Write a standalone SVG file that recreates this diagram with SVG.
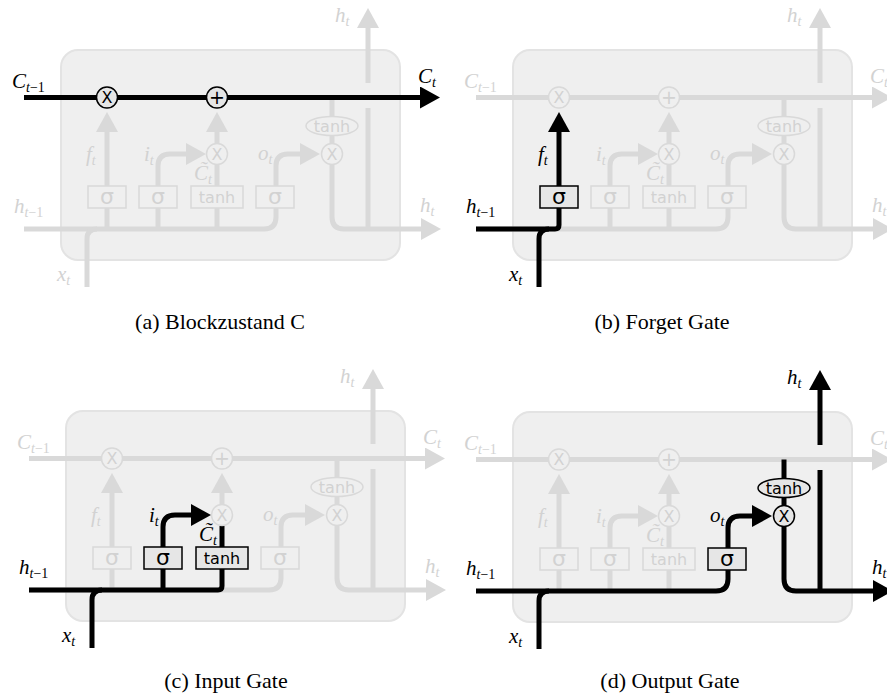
<svg xmlns="http://www.w3.org/2000/svg" width="887" height="693" viewBox="0 0 887 693">
<style>
.cell{fill:#efefef;stroke:#e3e3e3;stroke-width:2}
.g{fill:none;stroke:#d9d9d9;stroke-width:5}
.k{fill:none;stroke:#000;stroke-width:5}
.ng{fill:#efefef;stroke:#d9d9d9;stroke-width:1.5}
.nk{fill:#e6e6e6;stroke:#000;stroke-width:1.5}
.tg{fill:#d2d2d2}
.tk{fill:#000}
.m{font-family:"Liberation Serif",serif;font-style:italic;font-size:21px}
.s{font-size:14px}
.n{font-style:normal}
.sy{font-family:"DejaVu Sans",sans-serif;text-anchor:middle}
.cap{font-family:"Liberation Serif",serif;font-size:22px;fill:#000;text-anchor:middle}
</style>
<defs>
<marker id="ag" markerUnits="userSpaceOnUse" markerWidth="20" markerHeight="22" viewBox="0 0 20 22" refX="1" refY="11" orient="auto"><path d="M0,0L20,11L0,22z" fill="#d9d9d9"/></marker>
<marker id="ak" markerUnits="userSpaceOnUse" markerWidth="20" markerHeight="22" viewBox="0 0 20 22" refX="1" refY="11" orient="auto"><path d="M0,0L20,11L0,22z" fill="#000"/></marker>
</defs>
<rect width="887" height="693" fill="#fff"/>

<!-- Panel (a) -->
<g id="panel-a" transform="translate(0,0)">
<rect class="cell" x="61" y="50" width="339" height="210" rx="17"/>
<g id="a-connectors">
<path class="g" d="M368,83V27" marker-end="url(#ag)"/>
<path class="g" d="M368,108V229"/>
<path class="g" d="M332,97.5V143.5"/>
<path class="g" d="M332,164.5V217Q332,229 344,229H422" marker-end="url(#ag)"/>
<path class="g" d="M24,229H264Q276,229 276,217V166Q276,154 288,154H301" marker-end="url(#ag)"/>
<path class="g" d="M87,287V239Q87,229 97,229"/>
<path class="g" d="M107,229V131" marker-end="url(#ag)"/>
<path class="g" d="M158,229V166Q158,154 170,154H187" marker-end="url(#ag)"/>
<path class="g" d="M217,229V164.5"/>
<path class="g" d="M217,143.5V131" marker-end="url(#ag)"/>
<path class="k" d="M24,97.5H421" marker-end="url(#ak)"/>
</g>
<g id="a-forget-mul"><circle class="nk" cx="107" cy="97.5" r="10.5"/><text class="sy tk" x="107" y="103.3" font-size="16">X</text></g>
<g id="a-add"><circle class="nk" cx="217" cy="97.5" r="10.5"/><text class="sy tk" x="217" y="104.3" font-size="19">+</text></g>
<g id="a-input-mul"><circle class="ng" cx="217" cy="154" r="10.5"/><text class="sy tg" x="217" y="159.8" font-size="16">X</text></g>
<g id="a-output-mul"><circle class="ng" cx="332" cy="154" r="10.5"/><text class="sy tg" x="332" y="159.8" font-size="16">X</text></g>
<g id="a-tanh-out"><ellipse class="ng" cx="332" cy="126" rx="26" ry="9.5"/><text class="sy tg" x="332" y="131.8" font-size="16">tanh</text></g>
<g id="a-sigma-f"><rect class="ng" x="88" y="186" width="38" height="22"/><text class="sy tg" x="107" y="203.5" font-size="22">σ</text></g>
<g id="a-sigma-i"><rect class="ng" x="139" y="186" width="38" height="22"/><text class="sy tg" x="158" y="203.5" font-size="22">σ</text></g>
<g id="a-tanh-c"><rect class="ng" x="191" y="186" width="52" height="22"/><text class="sy tg" x="217" y="202.8" font-size="16">tanh</text></g>
<g id="a-sigma-o"><rect class="ng" x="256" y="186" width="38" height="22"/><text class="sy tg" x="275" y="203.5" font-size="22">σ</text></g>
<g id="a-labels" class="m">
<text class="tk" x="12" y="88">C<tspan class="s" dy="4">t</tspan><tspan class="s n">−1</tspan></text>
<text class="tk" x="418" y="83">C<tspan class="s" dy="4">t</tspan></text>
<text class="tg" x="335" y="22">h<tspan class="s" dy="4">t</tspan></text>
<text class="tg" x="420" y="212">h<tspan class="s" dy="4">t</tspan></text>
<text class="tg" x="14" y="213">h<tspan class="s" dy="4">t</tspan><tspan class="s n">−1</tspan></text>
<text class="tg" x="57" y="281">x<tspan class="s" dy="4">t</tspan></text>
<text class="tg" x="86" y="161">f<tspan class="s" dy="4">t</tspan></text>
<text class="tg" x="144" y="161">i<tspan class="s" dy="4">t</tspan></text>
<text class="tg" x="194" y="180">C̃<tspan class="s" dy="4">t</tspan></text>
<text class="tg" x="258" y="160">o<tspan class="s" dy="4">t</tspan></text>
</g>
</g>

<!-- Panel (b) -->
<g id="panel-b" transform="translate(452,0)">
<rect class="cell" x="61" y="50" width="339" height="210" rx="17"/>
<g id="b-connectors">
<path class="g" d="M24,97.5H421" marker-end="url(#ag)"/>
<path class="g" d="M368,83V27" marker-end="url(#ag)"/>
<path class="g" d="M368,108V229"/>
<path class="g" d="M332,97.5V143.5"/>
<path class="g" d="M332,164.5V217Q332,229 344,229H422" marker-end="url(#ag)"/>
<path class="g" d="M24,229H264Q276,229 276,217V166Q276,154 288,154H301" marker-end="url(#ag)"/>
<path class="g" d="M158,229V166Q158,154 170,154H187" marker-end="url(#ag)"/>
<path class="g" d="M217,229V164.5"/>
<path class="g" d="M217,143.5V131" marker-end="url(#ag)"/>
<path class="k" d="M24,229H103Q107,229 107,225V131" marker-end="url(#ak)"/>
<path class="k" d="M87,287V239Q87,229 97,229"/>
</g>
<g id="b-forget-mul"><circle class="ng" cx="107" cy="97.5" r="10.5"/><text class="sy tg" x="107" y="103.3" font-size="16">X</text></g>
<g id="b-add"><circle class="ng" cx="217" cy="97.5" r="10.5"/><text class="sy tg" x="217" y="104.3" font-size="19">+</text></g>
<g id="b-input-mul"><circle class="ng" cx="217" cy="154" r="10.5"/><text class="sy tg" x="217" y="159.8" font-size="16">X</text></g>
<g id="b-output-mul"><circle class="ng" cx="332" cy="154" r="10.5"/><text class="sy tg" x="332" y="159.8" font-size="16">X</text></g>
<g id="b-tanh-out"><ellipse class="ng" cx="332" cy="126" rx="26" ry="9.5"/><text class="sy tg" x="332" y="131.8" font-size="16">tanh</text></g>
<g id="b-sigma-f"><rect class="nk" x="88" y="186" width="38" height="22"/><text class="sy tk" x="107" y="203.5" font-size="22">σ</text></g>
<g id="b-sigma-i"><rect class="ng" x="139" y="186" width="38" height="22"/><text class="sy tg" x="158" y="203.5" font-size="22">σ</text></g>
<g id="b-tanh-c"><rect class="ng" x="191" y="186" width="52" height="22"/><text class="sy tg" x="217" y="202.8" font-size="16">tanh</text></g>
<g id="b-sigma-o"><rect class="ng" x="256" y="186" width="38" height="22"/><text class="sy tg" x="275" y="203.5" font-size="22">σ</text></g>
<g id="b-labels" class="m">
<text class="tg" x="12" y="88">C<tspan class="s" dy="4">t</tspan><tspan class="s n">−1</tspan></text>
<text class="tg" x="418" y="83">C<tspan class="s" dy="4">t</tspan></text>
<text class="tg" x="335" y="22">h<tspan class="s" dy="4">t</tspan></text>
<text class="tg" x="420" y="212">h<tspan class="s" dy="4">t</tspan></text>
<text class="tk" x="14" y="213">h<tspan class="s" dy="4">t</tspan><tspan class="s n">−1</tspan></text>
<text class="tk" x="57" y="281">x<tspan class="s" dy="4">t</tspan></text>
<text class="tk" x="86" y="161">f<tspan class="s" dy="4">t</tspan></text>
<text class="tg" x="144" y="161">i<tspan class="s" dy="4">t</tspan></text>
<text class="tg" x="194" y="180">C̃<tspan class="s" dy="4">t</tspan></text>
<text class="tg" x="258" y="160">o<tspan class="s" dy="4">t</tspan></text>
</g>
</g>

<!-- Panel (c) -->
<g id="panel-c" transform="translate(5,361)">
<rect class="cell" x="61" y="50" width="339" height="210" rx="17"/>
<g id="c-connectors">
<path class="g" d="M24,97.5H421" marker-end="url(#ag)"/>
<path class="g" d="M368,83V27" marker-end="url(#ag)"/>
<path class="g" d="M368,108V229"/>
<path class="g" d="M332,97.5V143.5"/>
<path class="g" d="M332,164.5V217Q332,229 344,229H422" marker-end="url(#ag)"/>
<path class="g" d="M24,229H264Q276,229 276,217V166Q276,154 288,154H301" marker-end="url(#ag)"/>
<path class="g" d="M107,229V131" marker-end="url(#ag)"/>
<path class="g" d="M217,143.5V131" marker-end="url(#ag)"/>
<path class="k" d="M24,229H213Q217,229 217,225V164.5"/>
<path class="k" d="M158,229V166Q158,154 170,154H187" marker-end="url(#ak)"/>
<path class="k" d="M87,287V239Q87,229 97,229"/>
</g>
<g id="c-forget-mul"><circle class="ng" cx="107" cy="97.5" r="10.5"/><text class="sy tg" x="107" y="103.3" font-size="16">X</text></g>
<g id="c-add"><circle class="ng" cx="217" cy="97.5" r="10.5"/><text class="sy tg" x="217" y="104.3" font-size="19">+</text></g>
<g id="c-input-mul"><circle class="ng" cx="217" cy="154" r="10.5"/><text class="sy tg" x="217" y="159.8" font-size="16">X</text></g>
<g id="c-output-mul"><circle class="ng" cx="332" cy="154" r="10.5"/><text class="sy tg" x="332" y="159.8" font-size="16">X</text></g>
<g id="c-tanh-out"><ellipse class="ng" cx="332" cy="126" rx="26" ry="9.5"/><text class="sy tg" x="332" y="131.8" font-size="16">tanh</text></g>
<g id="c-sigma-f"><rect class="ng" x="88" y="186" width="38" height="22"/><text class="sy tg" x="107" y="203.5" font-size="22">σ</text></g>
<g id="c-sigma-i"><rect class="nk" x="139" y="186" width="38" height="22"/><text class="sy tk" x="158" y="203.5" font-size="22">σ</text></g>
<g id="c-tanh-c"><rect class="nk" x="191" y="186" width="52" height="22"/><text class="sy tk" x="217" y="202.8" font-size="16">tanh</text></g>
<g id="c-sigma-o"><rect class="ng" x="256" y="186" width="38" height="22"/><text class="sy tg" x="275" y="203.5" font-size="22">σ</text></g>
<g id="c-labels" class="m">
<text class="tg" x="12" y="88">C<tspan class="s" dy="4">t</tspan><tspan class="s n">−1</tspan></text>
<text class="tg" x="418" y="83">C<tspan class="s" dy="4">t</tspan></text>
<text class="tg" x="335" y="22">h<tspan class="s" dy="4">t</tspan></text>
<text class="tg" x="420" y="212">h<tspan class="s" dy="4">t</tspan></text>
<text class="tk" x="14" y="213">h<tspan class="s" dy="4">t</tspan><tspan class="s n">−1</tspan></text>
<text class="tk" x="57" y="281">x<tspan class="s" dy="4">t</tspan></text>
<text class="tg" x="86" y="161">f<tspan class="s" dy="4">t</tspan></text>
<text class="tk" x="144" y="161">i<tspan class="s" dy="4">t</tspan></text>
<text class="tk" x="194" y="180">C̃<tspan class="s" dy="4">t</tspan></text>
<text class="tg" x="258" y="160">o<tspan class="s" dy="4">t</tspan></text>
</g>
</g>

<!-- Panel (d) -->
<g id="panel-d" transform="translate(452,362)">
<rect class="cell" x="61" y="50" width="339" height="210" rx="17"/>
<g id="d-connectors">
<path class="g" d="M24,97.5H421" marker-end="url(#ag)"/>
<path class="g" d="M107,229V131" marker-end="url(#ag)"/>
<path class="g" d="M158,229V166Q158,154 170,154H187" marker-end="url(#ag)"/>
<path class="g" d="M217,229V164.5"/>
<path class="g" d="M217,143.5V131" marker-end="url(#ag)"/>
<path class="k" d="M368,83V27" marker-end="url(#ak)"/>
<path class="k" d="M368,108V229"/>
<path class="k" d="M332,97.5V143.5"/>
<path class="k" d="M332,164.5V217Q332,229 344,229H422" marker-end="url(#ak)"/>
<path class="k" d="M24,229H264Q276,229 276,217V166Q276,154 288,154H301" marker-end="url(#ak)"/>
<path class="k" d="M87,287V239Q87,229 97,229"/>
</g>
<g id="d-forget-mul"><circle class="ng" cx="107" cy="97.5" r="10.5"/><text class="sy tg" x="107" y="103.3" font-size="16">X</text></g>
<g id="d-add"><circle class="ng" cx="217" cy="97.5" r="10.5"/><text class="sy tg" x="217" y="104.3" font-size="19">+</text></g>
<g id="d-input-mul"><circle class="ng" cx="217" cy="154" r="10.5"/><text class="sy tg" x="217" y="159.8" font-size="16">X</text></g>
<g id="d-output-mul"><circle class="nk" cx="332" cy="154" r="10.5"/><text class="sy tk" x="332" y="159.8" font-size="16">X</text></g>
<g id="d-tanh-out"><ellipse class="nk" cx="332" cy="126" rx="26" ry="9.5"/><text class="sy tk" x="332" y="131.8" font-size="16">tanh</text></g>
<g id="d-sigma-f"><rect class="ng" x="88" y="186" width="38" height="22"/><text class="sy tg" x="107" y="203.5" font-size="22">σ</text></g>
<g id="d-sigma-i"><rect class="ng" x="139" y="186" width="38" height="22"/><text class="sy tg" x="158" y="203.5" font-size="22">σ</text></g>
<g id="d-tanh-c"><rect class="ng" x="191" y="186" width="52" height="22"/><text class="sy tg" x="217" y="202.8" font-size="16">tanh</text></g>
<g id="d-sigma-o"><rect class="nk" x="256" y="186" width="38" height="22"/><text class="sy tk" x="275" y="203.5" font-size="22">σ</text></g>
<g id="d-labels" class="m">
<text class="tg" x="12" y="88">C<tspan class="s" dy="4">t</tspan><tspan class="s n">−1</tspan></text>
<text class="tg" x="418" y="83">C<tspan class="s" dy="4">t</tspan></text>
<text class="tk" x="335" y="22">h<tspan class="s" dy="4">t</tspan></text>
<text class="tk" x="420" y="212">h<tspan class="s" dy="4">t</tspan></text>
<text class="tk" x="14" y="213">h<tspan class="s" dy="4">t</tspan><tspan class="s n">−1</tspan></text>
<text class="tk" x="57" y="281">x<tspan class="s" dy="4">t</tspan></text>
<text class="tg" x="86" y="161">f<tspan class="s" dy="4">t</tspan></text>
<text class="tg" x="144" y="161">i<tspan class="s" dy="4">t</tspan></text>
<text class="tg" x="194" y="180">C̃<tspan class="s" dy="4">t</tspan></text>
<text class="tk" x="258" y="160">o<tspan class="s" dy="4">t</tspan></text>
</g>
</g>

<g id="captions">
<text class="cap" x="220" y="329">(a) Blockzustand C</text>
<text class="cap" x="662" y="329">(b) Forget Gate</text>
<text class="cap" x="226" y="688">(c) Input Gate</text>
<text class="cap" x="670" y="688">(d) Output Gate</text>
</g>
</svg>
